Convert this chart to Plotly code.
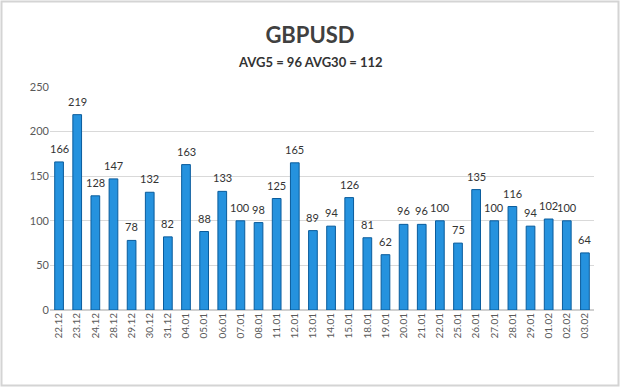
import plotly.graph_objects as go

dates = ["22.12", "23.12", "24.12", "28.12", "29.12", "30.12", "31.12", "04.01", "05.01", "06.01",
         "07.01", "08.01", "11.01", "12.01", "13.01", "14.01", "15.01", "18.01", "19.01", "20.01",
         "21.01", "22.01", "25.01", "26.01", "27.01", "28.01", "29.01", "01.02", "02.02", "03.02"]
values = [166, 219, 128, 147, 78, 132, 82, 163, 88, 133,
          100, 98, 125, 165, 89, 94, 126, 81, 62, 96,
          96, 100, 75, 135, 100, 116, 94, 102, 100, 64]
y_ticks = [0, 50, 100, 150, 200, 250]

W, H = 620, 387
ml, mr, mt, mb = 50, 26, 87, 77

fig = go.Figure()
fig.add_trace(go.Bar(
    x=dates, y=values,
    marker=dict(color="#2592de", line=dict(color="#0a5c9c", width=1)),
    hoverinfo="skip",
))

pw = W - ml - mr
ph = H - mt - mb

annots = [dict(text="<b>AVG5 = 96 AVG30 = 112</b>", xref="paper", yref="paper",
               x=0.5 - ((ml - mr) / 2) / pw, y=1 + (mt - 62) / ph, xanchor="center", yanchor="middle",
               showarrow=False, font=dict(size=13, color="#333333"))]
for i, v in enumerate(values):
    annots.append(dict(x=i, y=v, text=str(v), xref="x", yref="y", showarrow=False,
                       xanchor="center", yanchor="bottom", yshift=5,
                       font=dict(family="Lato, Open Sans, sans-serif", size=11, color="#333333")))

fig.update_layout(
    width=W, height=H,
    margin=dict(l=ml, r=mr, t=mt, b=mb),
    paper_bgcolor="white", plot_bgcolor="white",
    bargap=0.52,
    showlegend=False,
    font=dict(family="Lato, Open Sans, sans-serif"),
    title=dict(text="<b>GBPUSD</b>", x=0.5, xanchor="center", y=1 - 35 / H, yanchor="middle",
               font=dict(size=22, color="#404040")),
    annotations=annots,
    xaxis=dict(type="category", tickangle=-90, tickfont=dict(size=10, color="#595959"), showgrid=False,
               showline=False, ticks="", range=[-0.5, len(dates) - 0.5]),
    yaxis=dict(range=[0, 250], tickvals=y_ticks, tickfont=dict(size=11, color="#595959"),
               gridcolor="#d9d9d9", gridwidth=1, zeroline=True, zerolinecolor="#d0d0d0",
               zerolinewidth=2, showline=False, ticks=""),
    shapes=[dict(type="rect", xref="paper", yref="paper",
                 x0=-(ml - 1.5) / pw, x1=1 + (mr - 1.5) / pw, y0=-(mb - 1.5) / ph, y1=1 + (mt - 1.5) / ph,
                 line=dict(color="#d4d4d4", width=2), layer="below")],
)
fig.write_html("out.html", config={"displayModeBar": False},
               post_script="document.body.style.margin='0';")
